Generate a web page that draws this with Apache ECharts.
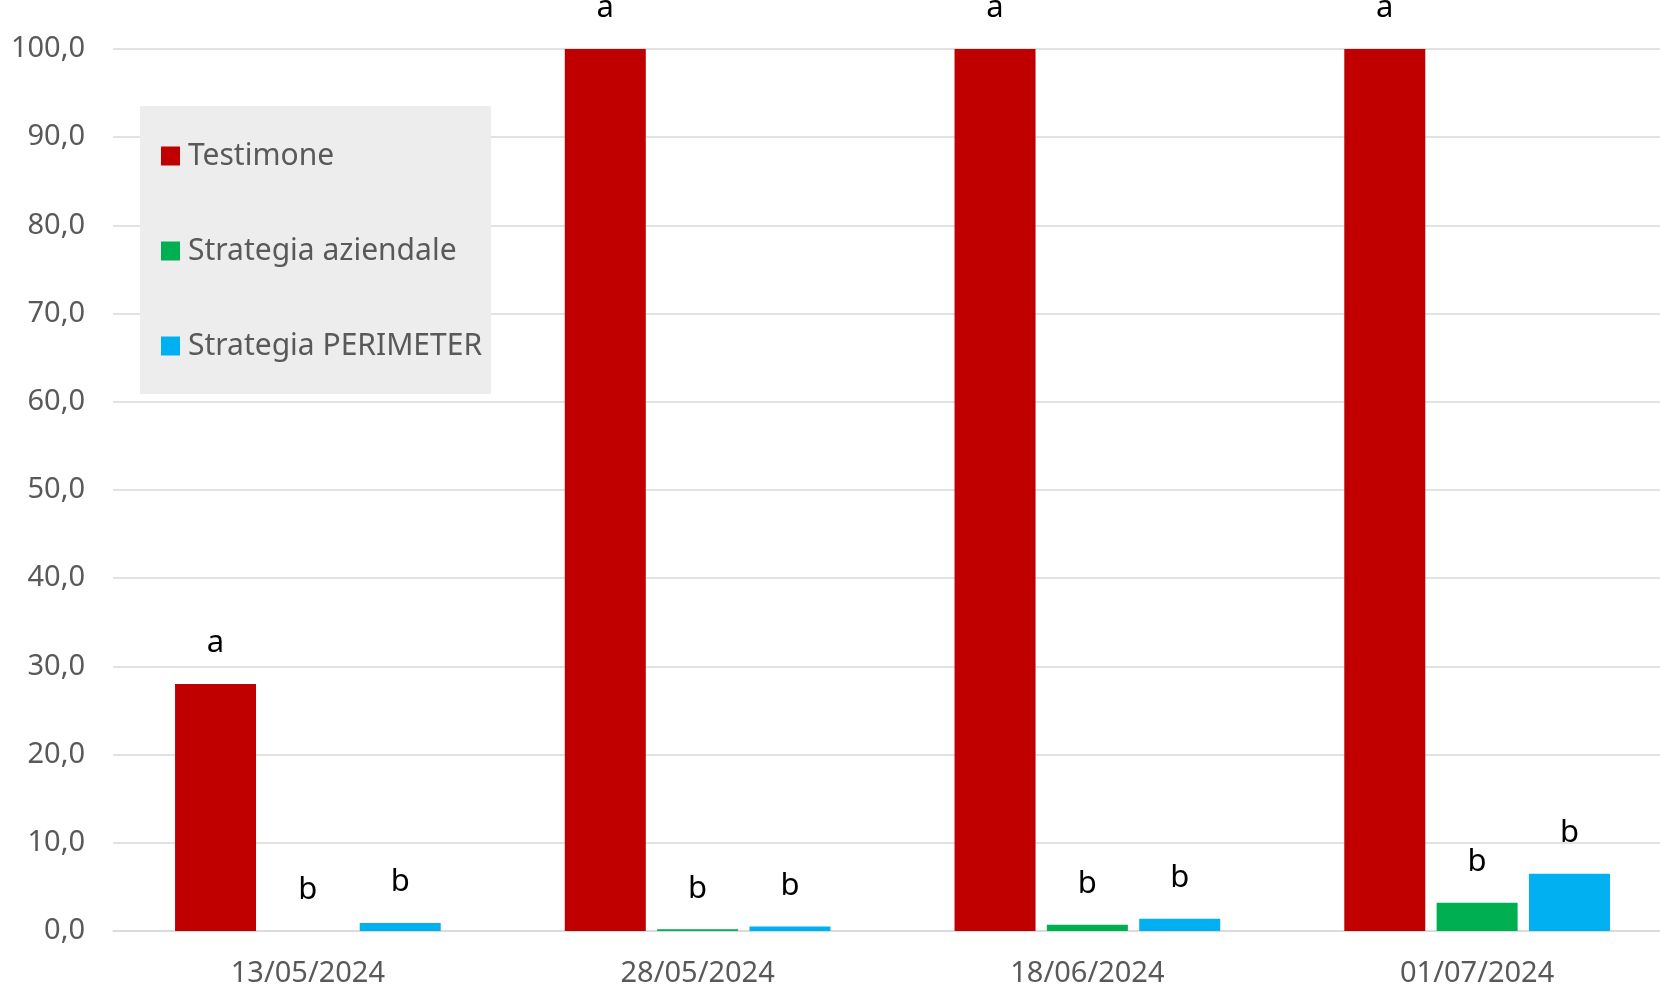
<!DOCTYPE html>
<html>
<head>
<meta charset="utf-8">
<script src="https://cdn.jsdelivr.net/npm/echarts@6/dist/echarts.min.js"></script>
<style>
  html, body { margin: 0; padding: 0; background: #fff; }
  #chart { width: 1660px; height: 987px; }
</style>
</head>
<body>
<div id="chart"></div>
<script>
  // dati
  var categories = ['13/05/2024', '28/05/2024', '18/06/2024', '01/07/2024']
  var seriesNames = ['Testimone', 'Strategia aziendale', 'Strategia PERIMETER']
  var testimone = [28.0, 100, 100, 100]
  var aziendale = [0, 0.2, 0.7, 3.2]
  var perimeter = [0.9, 0.5, 1.4, 6.5]
  // lettere di significatività
  var lettTestimone = ['a', 'a', 'a', 'a']
  var lettAziendale = ['b', 'b', 'b', 'b']
  var lettPerimeter = ['b', 'b', 'b', 'b']
  var colorPalette = ['#C00000', '#00B050', '#00B0F0']

  var fontFam = '"Noto Sans", "Open Sans", sans-serif'
  var chart = echarts.init(document.getElementById('chart'))

  function makeSeries(name, data, letters) {
    return {
      name: name,
      type: 'bar',
      barWidth: 81,
      barGap: '14%',
      data: data,
      label: {
        show: true,
        position: 'top',
        distance: 25,
        color: '#000',
        fontSize: 31,
        fontFamily: fontFam,
        formatter: function (p) {
          return letters[p.dataIndex]
        }
      }
    }
  }

  var options = {
    color: colorPalette,
    animation: false,
    grid: {
      left: 113,
      top: 49,
      width: 1559,
      bottom: 56,
      containLabel: false,
      outerBoundsMode: 'none'
    },
    legend: {
      orient: 'vertical',
      left: 140,
      top: 106,
      backgroundColor: '#ededed',
      padding: [35, 9, 33, 21],
      itemGap: 65,
      itemWidth: 19,
      itemHeight: 19,
      icon: 'rect',
      data: seriesNames,
      textStyle: {
        color: '#595959',
        fontSize: 30,
        fontFamily: fontFam,
        lineHeight: 30,
        padding: [0, 0, 0, 3]
      }
    },
    xAxis: [{
      type: 'category',
      data: categories,
      axisTick: { show: false },
      axisLine: {
        show: true,
        lineStyle: { color: '#d9d9d9', width: 1.5 }
      },
      axisLabel: {
        color: '#595959',
        fontSize: 29,
        fontFamily: fontFam,
        margin: 28
      },
      splitLine: { show: false }
    }],
    yAxis: [{
      type: 'value',
      min: 0,
      max: 100,
      interval: 10,
      axisLine: { show: false },
      axisTick: { show: false },
      axisLabel: {
        color: '#595959',
        fontSize: 29,
        fontFamily: fontFam,
        margin: 28,
        formatter: function (v) {
          return v.toFixed(1).replace('.', ',')
        }
      },
      splitLine: {
        show: true,
        lineStyle: { color: '#d9d9d9', width: 1.5 }
      }
    }],
    series: [
      makeSeries(seriesNames[0], testimone, lettTestimone),
      makeSeries(seriesNames[1], aziendale, lettAziendale),
      makeSeries(seriesNames[2], perimeter, lettPerimeter)
    ]
  }

  chart.setOption(options)

  window.addEventListener('resize', function () {
    chart.resize()
  })
</script>
</body>
</html>
